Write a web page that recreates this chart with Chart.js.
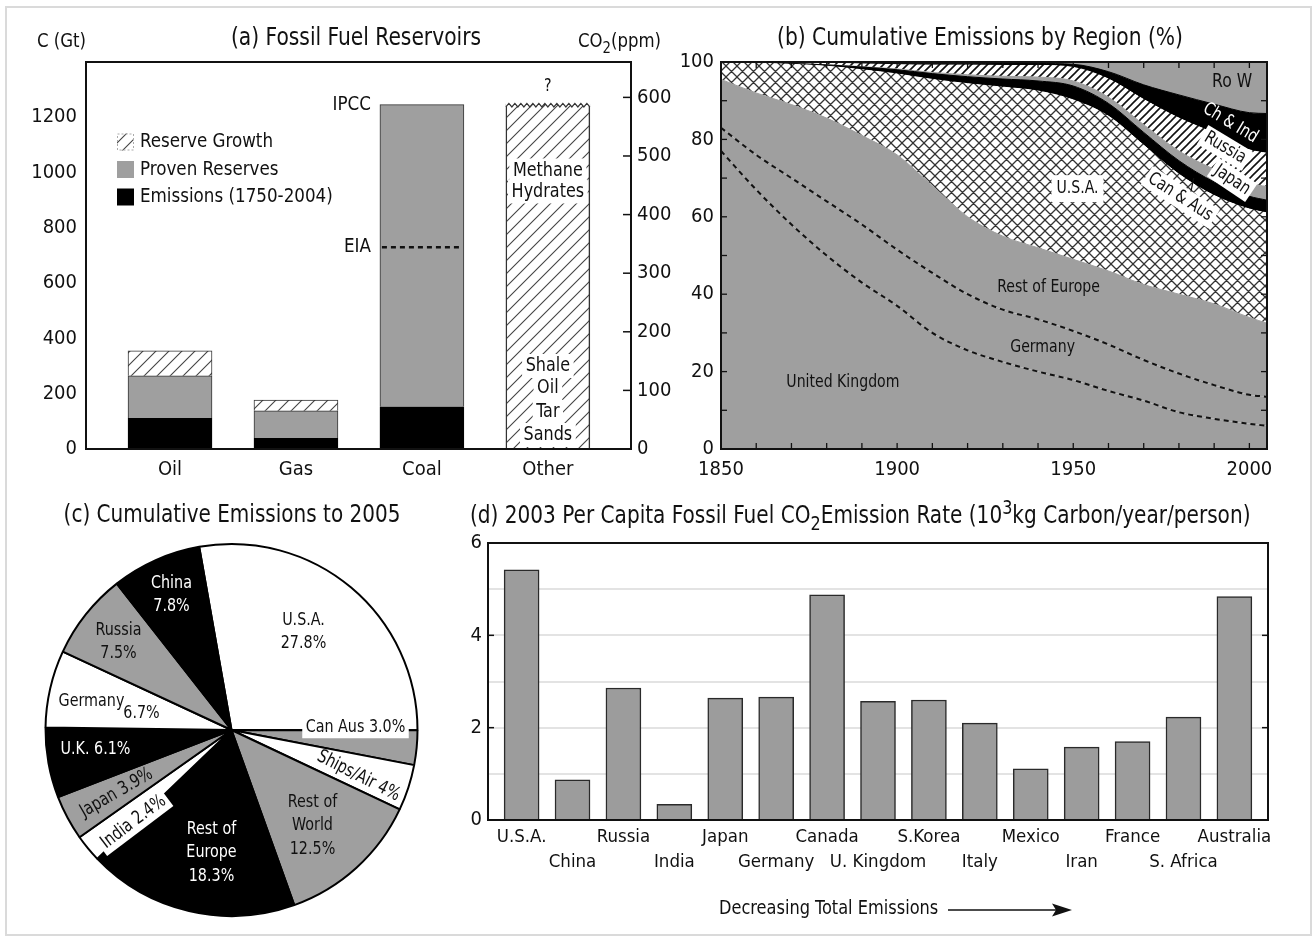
<!DOCTYPE html>
<html>
<head>
<meta charset="utf-8">
<title>Fossil fuel reservoirs and cumulative emissions</title>
<script src="https://cdn.jsdelivr.net/npm/chart.js@4.4.1/dist/chart.umd.min.js"></script>
<style>
  body { margin: 0; background: #fff; }
  #page { position: relative; width: 1316px; height: 940px; overflow: hidden; background: #fff; }
  #frame { position: absolute; left: 5px; top: 6px; width: 1303px; height: 926px; border: 2px solid #dadada; }
  canvas { position: absolute; }
</style>
</head>
<body>
<div id="page">
  <div id="frame"></div>
  <canvas id="fuels" width="680" height="490" style="left:0px;top:0px"></canvas>
  <canvas id="regions" width="656" height="490" style="left:660px;top:0px"></canvas>
  <canvas id="pie" width="460" height="450" style="left:0px;top:490px"></canvas>
  <canvas id="perCapita" width="876" height="450" style="left:440px;top:490px"></canvas>
</div>
<script>
// (a) fossil fuel reservoirs, Gt C
const fuels = ['Oil', 'Gas', 'Coal', 'Other'];
const emissions = [111, 39, 153, null];
const provenReserves = [154, 99, 1093, null];
const reserveGrowth = [90, 39, null, null];
const unconventional = [null, null, null, 1250];
const coalEIA = 730;
const gtPerPpm = 2.12;

// (b) cumulative emissions by region, % of total
const years = [1850, 1860, 1870, 1880, 1890, 1900, 1910, 1920, 1930, 1940, 1950, 1960, 1970, 1980, 1990, 2000, 2005];
const ukShare = [77, 67, 58, 50, 43, 37, 30, 25.5, 22.5, 20, 17.8, 15, 12.5, 9.5, 7.8, 6.5, 6];
const germanyShare = [6, 9, 12, 14, 15, 14.5, 15.5, 14.5, 13.5, 13.5, 12.7, 12, 10.5, 10, 8.7, 7.5, 7.5];
const restEuropeShare = [12.5, 16, 19, 21.5, 23, 24.5, 22.5, 20, 19, 18.5, 18.5, 19, 19.5, 20.5, 21, 20, 19];
const usaShare = [4.4, 7.7, 10.4, 13.4, 17, 20.9, 27.5, 34.4, 38.5, 40.5, 41.2, 40, 36, 31, 28, 28, 28.5];
const canAusShare = [0.05, 0.1, 0.2, 0.35, 0.7, 1.1, 1.5, 1.8, 2.1, 2.6, 3.6, 3.3, 3.3, 3.5, 3.5, 3.3, 3.3];
const japanShare = [0, 0, 0, 0.05, 0.1, 0.2, 0.3, 0.5, 0.7, 1.0, 1.3, 1.6, 2.0, 2.5, 3.3, 3.4, 3.5];
const russiaShare = [0, 0.05, 0.15, 0.35, 0.7, 1.1, 1.9, 2.5, 2.8, 3.0, 3.5, 4.7, 6.5, 8.5, 9.3, 8.6, 8.6];
const chinaIndiaShare = [0.05, 0.1, 0.15, 0.2, 0.3, 0.4, 0.5, 0.5, 0.5, 0.5, 0.8, 1.9, 3.8, 6.0, 7.5, 9.6, 10.3];
const restWorldShare = [0, 0.05, 0.1, 0.15, 0.2, 0.3, 0.3, 0.3, 0.4, 0.4, 0.6, 2.5, 5.9, 8.5, 10.9, 13.1, 13.3];

// (c) cumulative emissions to 2005, %
const pieRegions = ['U.S.A.', 'Can Aus', 'Ships/Air', 'Rest of\nWorld', 'Rest of\nEurope', 'India', 'Japan', 'U.K.', 'Germany', 'Russia', 'China'];
const pieShares = [27.8, 3.0, 4, 12.5, 18.3, 2.4, 3.9, 6.1, 6.7, 7.5, 7.8];

// (d) 2003 per capita emission rate, 10^3 kg C / year / person
const countries = ['U.S.A.', 'China', 'Russia', 'India', 'Japan', 'Germany', 'Canada', 'U. Kingdom', 'S.Korea', 'Italy', 'Mexico', 'Iran', 'France', 'S. Africa', 'Australia'];
const perCapita = [5.42, 0.87, 2.86, 0.34, 2.64, 2.66, 4.88, 2.57, 2.60, 2.10, 1.11, 1.58, 1.70, 2.23, 4.84];

const FONT = "'DejaVu Sans Condensed', 'Liberation Sans Narrow', sans-serif";
const INK = '#111';
const GRAY = '#9f9f9f';

Chart.defaults.font.family = FONT;
Chart.defaults.font.size = 20;
Chart.defaults.color = INK;
Chart.defaults.animation = false;
Chart.defaults.plugins.legend.display = false;
Chart.defaults.plugins.tooltip.enabled = false;

function hatch(size, color, lw, cross) {
    const c = document.createElement('canvas');
    c.width = c.height = size;
    const g = c.getContext('2d');
    g.fillStyle = '#fff';
    g.fillRect(0, 0, size, size);
    g.strokeStyle = color;
    g.lineWidth = lw;
    g.beginPath();
    g.moveTo(-1, size + 1); g.lineTo(size + 1, -1);
    g.moveTo(-1, 1); g.lineTo(1, -1);
    g.moveTo(size - 1, size + 1); g.lineTo(size + 1, size - 1);
    if (cross) {
        g.moveTo(-1, -1); g.lineTo(size + 1, size + 1);
        g.moveTo(size - 1, -1); g.lineTo(size + 1, 1);
        g.moveTo(-1, size - 1); g.lineTo(1, size + 1);
    }
    g.stroke();
    return g.createPattern(c, 'repeat');
}

function seg(ctx, x1, y1, x2, y2) {
    ctx.beginPath();
    ctx.moveTo(x1, y1);
    ctx.lineTo(x2, y2);
    ctx.stroke();
}

// canvas text, sx squeezes it sideways to get closer to the condensed face of the original
function label(ctx, text, x, y, o = {}) {
    const size = o.size || 18;
    ctx.save();
    ctx.font = size + 'px ' + FONT;
    ctx.textAlign = o.align || 'center';
    ctx.textBaseline = 'middle';
    ctx.translate(x, y);
    if (o.rot) ctx.rotate(o.rot * Math.PI / 180);
    ctx.scale(o.sx || 0.88, 1);
    if (o.box) {
        const w = ctx.measureText(text).width + 8, h = size + 4;
        const bx = ctx.textAlign === 'left' ? -4 : ctx.textAlign === 'right' ? -w + 4 : -w / 2;
        ctx.fillStyle = o.box;
        ctx.fillRect(bx, -h / 2, w, h);
    }
    ctx.fillStyle = o.color || INK;
    ctx.fillText(text, 0, 0);
    ctx.restore();
}

// text with sub (1) / superscript (-1) parts
function rich(ctx, parts, x, y, size, align, sx) {
    ctx.save();
    ctx.textBaseline = 'middle';
    ctx.textAlign = 'left';
    ctx.fillStyle = INK;
    const sizes = parts.map(p => p[1] ? size * 0.8 : size);
    let total = 0;
    const widths = parts.map((p, i) => {
        ctx.font = sizes[i] + 'px ' + FONT;
        const w = ctx.measureText(p[0]).width;
        total += w;
        return w;
    });
    ctx.translate(x, y);
    ctx.scale(sx || 0.9, 1);
    let cx = align === 'center' ? -total / 2 : align === 'right' ? -total : 0;
    parts.forEach((p, i) => {
        ctx.font = sizes[i] + 'px ' + FONT;
        ctx.fillText(p[0], cx, p[1] * size * 0.35);
        cx += widths[i];
    });
    ctx.restore();
}

const xy = arr => arr.map((v, i) => ({ x: i, y: v }));
const numLabel = v => String(v);
const noGrid = { display: false, drawTicks: false };

// ---------- (a) ----------
const hatchA = hatch(13, '#444', 1.1, false);

const panelA = {
    id: 'panelA',
    afterDraw(chart) {
        const { ctx, chartArea: ca, scales } = chart;
        ctx.save();
        ctx.strokeStyle = INK;
        ctx.lineWidth = 1.5;
        scales.y1.ticks.forEach(t => {
            const p = scales.y1.getPixelForValue(t.value);
            seg(ctx, ca.right - 8, p, ca.right, p);
        });
        ctx.lineWidth = 2;
        ctx.strokeRect(ca.left, ca.top, ca.right - ca.left, ca.bottom - ca.top);

        // coal: IPCC / EIA
        const coal = chart.getDatasetMeta(1).data[2];
        const cl = coal.x - coal.width / 2;
        label(ctx, 'IPCC', cl - 9, coal.y, { align: 'right', size: 20, sx: 0.93 });
        const yEia = scales.y.getPixelForValue(coalEIA);
        ctx.setLineDash([5, 4]);
        ctx.lineWidth = 2.5;
        seg(ctx, cl + 2, yEia, cl + coal.width - 2, yEia);
        ctx.setLineDash([]);
        label(ctx, 'EIA', cl - 9, yEia, { align: 'right', size: 20, sx: 0.93 });

        // other reservoirs: zigzag top, question mark, names
        const oth = chart.getDatasetMeta(3).data[3];
        const ol = oth.x - oth.width / 2, or = oth.x + oth.width / 2;
        ctx.beginPath();
        ctx.moveTo(ol, oth.y + 3);
        let k = 0;
        for (let x = ol; x <= or; x += 3) ctx.lineTo(x, oth.y + (k++ % 2 ? 0 : 3.5));
        ctx.lineTo(or, oth.y + 3);
        ctx.lineTo(or + 1, oth.y - 4);
        ctx.lineTo(ol - 1, oth.y - 4);
        ctx.closePath();
        ctx.fillStyle = '#fff';
        ctx.fill();
        ctx.beginPath();
        k = 0;
        for (let x = ol; x <= or; x += 3) ctx.lineTo(x, oth.y + (k++ % 2 ? 0 : 3.5));
        ctx.lineWidth = 1.2;
        ctx.strokeStyle = '#333';
        ctx.stroke();
        label(ctx, '?', oth.x, oth.y - 17, { size: 18 });
        [['Methane', 67], ['Hydrates', 88]].forEach(([t, d]) => label(ctx, t, oth.x, oth.y + d, { size: 20, box: '#fff', sx: 0.89 }));
        [['Shale', 83], ['Oil', 61], ['Tar', 37], ['Sands', 14]].forEach(([t, d]) => label(ctx, t, oth.x, oth.base - d, { size: 20, box: '#fff', sx: 0.89 }));

        // legend
        [2, 1, 0].forEach((di, r) => {
            const ds = chart.data.datasets[di];
            const cy = ca.top + 80 + r * 27.5;
            ctx.fillStyle = ds.backgroundColor;
            ctx.fillRect(ca.left + 31, cy - 8.5, 17, 17);
            if (di === 2) {
                ctx.strokeStyle = '#aaa';
                ctx.lineWidth = 1;
                ctx.setLineDash([2, 2]);
                ctx.strokeRect(ca.left + 31.5, cy - 8, 16, 16);
                ctx.setLineDash([]);
            }
            label(ctx, ds.label, ca.left + 54, cy, { align: 'left', size: 20, sx: 0.93 });
        });

        // titles
        label(ctx, 'C (Gt)', 37, 42, { align: 'left', size: 20, sx: 0.92 });
        label(ctx, '(a) Fossil Fuel Reservoirs', 356, 38, { size: 25, sx: 0.9 });
        rich(ctx, [['CO', 0], ['2', 1], ['(ppm)', 0]], 578, 42, 20, 'left', 0.92);
        ctx.restore();
    }
};

new Chart(document.getElementById('fuels'), {
    type: 'bar',
    data: {
        datasets: [
            { label: 'Emissions (1750-2004)', data: xy(emissions), backgroundColor: '#000', borderColor: '#000', borderWidth: 1 },
            { label: 'Proven Reserves', data: xy(provenReserves), backgroundColor: GRAY, borderColor: '#333', borderWidth: 1 },
            { label: 'Reserve Growth', data: xy(reserveGrowth), backgroundColor: hatchA, borderColor: '#333', borderWidth: 1 },
            { label: 'Methane Hydrates, Shale Oil, Tar Sands', data: xy(unconventional), backgroundColor: hatchA, borderColor: '#333',
              borderWidth: { left: 1.5, right: 1.5, top: 0, bottom: 0 }, borderSkipped: false }
        ]
    },
    options: {
        responsive: false,
        devicePixelRatio: 1,
        layout: { padding: { top: 62, left: 0, right: 0, bottom: 0 } },
        datasets: { bar: { barThickness: 84 } },
        scales: {
            x: {
                type: 'linear', min: -0.667, max: 3.66, stacked: true, offset: false,
                grid: noGrid, border: { display: false },
                afterBuildTicks: ax => { ax.ticks = fuels.map((f, i) => ({ value: i })); },
                ticks: { callback: v => fuels[v], padding: 9, autoSkip: false, maxRotation: 0 },
                afterFit: ax => { ax.height = 41; }
            },
            y: {
                stacked: true, min: 0, max: 1400,
                grid: noGrid, border: { display: false },
                afterBuildTicks: ax => { ax.ticks = ax.ticks.filter(t => t.value <= 1200); },
                ticks: { stepSize: 200, padding: 9, callback: numLabel },
                afterFit: ax => { ax.width = 86; }
            },
            y1: {
                position: 'right', min: 0, max: 1400 / gtPerPpm,
                grid: noGrid, border: { display: false },
                afterBuildTicks: ax => { ax.ticks = ax.ticks.filter(t => t.value <= 600); },
                ticks: { stepSize: 100, padding: 6, callback: numLabel },
                afterFit: ax => { ax.width = 49; }
            }
        }
    },
    plugins: [panelA]
});

// ---------- (b) ----------
const crossUSA = hatch(11, '#333', 1.3, true);
const hatchRussia = hatch(8, '#111', 1.6, false);

const regionSeries = [
    { label: 'United Kingdom', data: ukShare, fill: GRAY, dashed: true },
    { label: 'Germany', data: germanyShare, fill: GRAY, dashed: true },
    { label: 'Rest of Europe', data: restEuropeShare, fill: GRAY },
    { label: 'U.S.A.', data: usaShare, fill: crossUSA },
    { label: 'Can & Aus', data: canAusShare, fill: '#000' },
    { label: 'Japan', data: japanShare, fill: GRAY },
    { label: 'Russia', data: russiaShare, fill: hatchRussia },
    { label: 'Ch & Ind', data: chinaIndiaShare, fill: '#000' },
    { label: 'Ro W', data: restWorldShare, fill: GRAY }
];

// label anchors in data space (year, %)
const regionLabels = [
    { text: 'United Kingdom', yr: 1884.6, pct: 17.1 },
    { text: 'Germany', yr: 1941.3, pct: 26.4 },
    { text: 'Rest of Europe', yr: 1943, pct: 41.9 },
    { text: 'U.S.A.', yr: 1951.2, pct: 67.4, panel: true },
    { text: 'Can & Aus', yr: 1980.4, pct: 65.1, rot: 33, box: '#fff' },
    { text: 'Japan', yr: 1995.1, pct: 69.5, rot: 34, box: '#fff' },
    { text: 'Russia', yr: 1993.1, pct: 77.8, rot: 31, box: '#fff' },
    { text: 'Ch & Ind', yr: 1994.6, pct: 84.2, rot: 31, color: '#fff' },
    { text: 'Ro W', yr: 1995.1, pct: 94.8, size: 20 }
];

const panelB = {
    id: 'panelB',
    afterDraw(chart) {
        const { ctx, chartArea: ca, scales } = chart;
        ctx.save();
        regionLabels.forEach(l => {
            const px = scales.x.getPixelForValue(l.yr), py = scales.y.getPixelForValue(l.pct);
            if (l.panel) {
                ctx.fillStyle = '#fff';
                ctx.fillRect(px - 26, py - 13, 52, 27);
            }
            label(ctx, l.text, px, py, { size: l.size || 18, rot: l.rot, box: l.box, color: l.color, sx: 0.87 });
        });
        // pointer from Can & Aus to its band
        ctx.strokeStyle = INK;
        ctx.lineWidth = 1.2;
        seg(ctx, scales.x.getPixelForValue(1984.2), scales.y.getPixelForValue(70), scales.x.getPixelForValue(1983.4), scales.y.getPixelForValue(66.5));

        ctx.lineWidth = 1.3;
        for (let yr = 1860; yr < 2005; yr += 10) {
            const px = scales.x.getPixelForValue(yr);
            seg(ctx, px, ca.bottom, px, ca.bottom - 6);
            seg(ctx, px, ca.top, px, ca.top + 6);
        }
        for (let p = 10; p < 100; p += 10) {
            const py = scales.y.getPixelForValue(p);
            seg(ctx, ca.left, py, ca.left + 6, py);
            seg(ctx, ca.right, py, ca.right - 6, py);
        }
        ctx.lineWidth = 2;
        ctx.strokeRect(ca.left, ca.top, ca.right - ca.left, ca.bottom - ca.top);
        label(ctx, '(b) Cumulative Emissions by Region (%)', 320, 38, { size: 25, sx: 0.9 });
        ctx.restore();
    }
};

new Chart(document.getElementById('regions'), {
    type: 'line',
    data: {
        datasets: regionSeries.map((s, i) => ({
            label: s.label,
            data: years.map((yr, j) => ({ x: yr, y: s.data[j] })),
            backgroundColor: s.fill,
            borderColor: s.dashed ? '#111' : s.fill,
            borderWidth: s.dashed ? 2 : 1,
            borderDash: s.dashed ? [5, 4] : [],
            fill: i === 0 ? 'origin' : '-1',
            pointRadius: 0,
            cubicInterpolationMode: 'monotone'
        }))
    },
    options: {
        responsive: false,
        devicePixelRatio: 1,
        layout: { padding: { top: 62, right: 49, left: 0, bottom: 0 } },
        scales: {
            x: {
                type: 'linear', min: 1850, max: 2005,
                grid: noGrid, border: { display: false },
                afterBuildTicks: ax => { ax.ticks = [1850, 1900, 1950, 2000].map(v => ({ value: v })); },
                ticks: { padding: 9, callback: numLabel, maxRotation: 0 },
                afterFit: ax => { ax.height = 41; }
            },
            y: {
                stacked: true, min: 0, max: 100,
                grid: noGrid, border: { display: false },
                ticks: { stepSize: 20, padding: 7 },
                afterFit: ax => { ax.width = 61; }
            }
        }
    },
    plugins: [panelB]
});

// ---------- (c) ----------
const pieColors = ['#fff', GRAY, '#fff', GRAY, '#000', '#fff', GRAY, '#000', '#fff', GRAY, '#000'];

// label placement: offset from pie centre in px
const pieLabelLayout = [
    { i: 0, dx: 72, dy: -110, mode: 'stack' },
    { i: 1, dx: 124, dy: -3, mode: 'inline', box: true },
    { i: 2, dx: 127, dy: 46, mode: 'inline', rot: 27, dec: 0 },
    { i: 3, dx: 81, dy: 72, mode: 'stack' },
    { i: 4, dx: -20, dy: 99, mode: 'stack', color: '#fff' },
    { i: 5, dx: -98, dy: 92, mode: 'inline', rot: -37, box: true },
    { i: 6, dx: -115, dy: 63, mode: 'inline', rot: -30 },
    { i: 7, dx: -136, dy: 19, mode: 'inline', color: '#fff' },
    { i: 8, dx: -140, dy: -29, mode: 'split', dx2: -90, dy2: -17 },
    { i: 9, dx: -113, dy: -100, mode: 'stack' },
    { i: 10, dx: -60, dy: -147, mode: 'stack', color: '#fff' }
];

const panelC = {
    id: 'panelC',
    afterDraw(chart) {
        const { ctx } = chart;
        const arc = chart.getDatasetMeta(0).data[0];
        const cx = arc.x, cy = arc.y;
        pieLabelLayout.forEach(l => {
            const name = pieRegions[l.i];
            const pct = pieShares[l.i].toFixed(l.dec === undefined ? 1 : l.dec) + '%';
            const o = { size: 18.5, color: l.color, rot: l.rot, box: l.box ? '#fff' : null, sx: 0.86 };
            if (l.mode === 'stack') {
                const lines = name.split('\n').concat([pct]);
                lines.forEach((t, k) => label(ctx, t, cx + l.dx, cy + l.dy + k * 23.5, o));
            } else if (l.mode === 'split') {
                label(ctx, name, cx + l.dx, cy + l.dy, o);
                label(ctx, pct, cx + l.dx2, cy + l.dy2, o);
            } else {
                label(ctx, name + ' ' + pct, cx + l.dx, cy + l.dy, o);
            }
        });
        label(ctx, '(c) Cumulative Emissions to 2005', 232, 25, { size: 25, sx: 0.89 });
    }
};

new Chart(document.getElementById('pie'), {
    type: 'pie',
    data: {
        labels: pieRegions,
        datasets: [{ data: pieShares, backgroundColor: pieColors, borderColor: '#000', borderWidth: 2 }]
    },
    options: {
        responsive: false,
        devicePixelRatio: 1,
        rotation: -10,
        layout: { padding: { left: 44, right: 41, top: 53, bottom: 23 } }
    },
    plugins: [panelC]
});

// ---------- (d) ----------
const panelD = {
    id: 'panelD',
    afterDraw(chart) {
        const { ctx, chartArea: ca, scales } = chart;
        ctx.save();
        ctx.strokeStyle = INK;
        ctx.lineWidth = 1.5;
        [2, 4].forEach(v => {
            const py = scales.y.getPixelForValue(v);
            seg(ctx, ca.left, py, ca.left + 6, py);
            seg(ctx, ca.right, py, ca.right - 6, py);
        });
        ctx.lineWidth = 2;
        ctx.strokeRect(ca.left, ca.top, ca.right - ca.left, ca.bottom - ca.top);
        rich(ctx, [['(d) 2003 Per Capita Fossil Fuel CO', 0], ['2', 1], ['Emission Rate (10', 0], ['3', -1], ['kg Carbon/year/person)', 0]], 30, 27, 24, 'left', 0.93);
        label(ctx, 'Decreasing Total Emissions', 279, 419, { size: 20, align: 'left', sx: 0.9 });
        ctx.lineWidth = 1.6;
        seg(ctx, 508, 420, 618, 420);
        ctx.fillStyle = INK;
        ctx.beginPath();
        ctx.moveTo(632, 420);
        ctx.lineTo(612, 413.5);
        ctx.lineTo(616, 420);
        ctx.lineTo(612, 426.5);
        ctx.closePath();
        ctx.fill();
        ctx.restore();
    }
};

new Chart(document.getElementById('perCapita'), {
    type: 'bar',
    data: {
        datasets: [{
            label: 'Per capita emission rate',
            data: xy(perCapita),
            backgroundColor: '#9c9c9c',
            borderColor: '#2a2a2a',
            borderWidth: 1.5,
            barThickness: 35
        }]
    },
    options: {
        responsive: false,
        devicePixelRatio: 1,
        layout: { padding: { top: 53, right: 48, left: 0, bottom: 0 } },
        scales: {
            x: {
                type: 'linear', min: -0.66, max: 14.66, offset: false,
                grid: noGrid, border: { display: false },
                afterBuildTicks: ax => { ax.ticks = countries.map((c, i) => ({ value: i })); },
                ticks: {
                    autoSkip: false, maxRotation: 0, padding: 5,
                    font: { size: 18.5, lineHeight: 1.35 },
                    callback: v => v % 2 ? ['', countries[v]] : countries[v]
                },
                afterFit: ax => { ax.height = 120; }
            },
            y: {
                min: 0, max: 6,
                border: { display: false },
                grid: {
                    drawTicks: false, lineWidth: 2,
                    color: c => (c.tick.value > 0 && c.tick.value < 6) ? '#e3e3e3' : 'rgba(0,0,0,0)'
                },
                ticks: { stepSize: 1, padding: 6, callback: v => v % 2 ? '' : String(v) },
                afterFit: ax => { ax.width = 48; }
            }
        }
    },
    plugins: [panelD]
});
</script>
</body>
</html>
